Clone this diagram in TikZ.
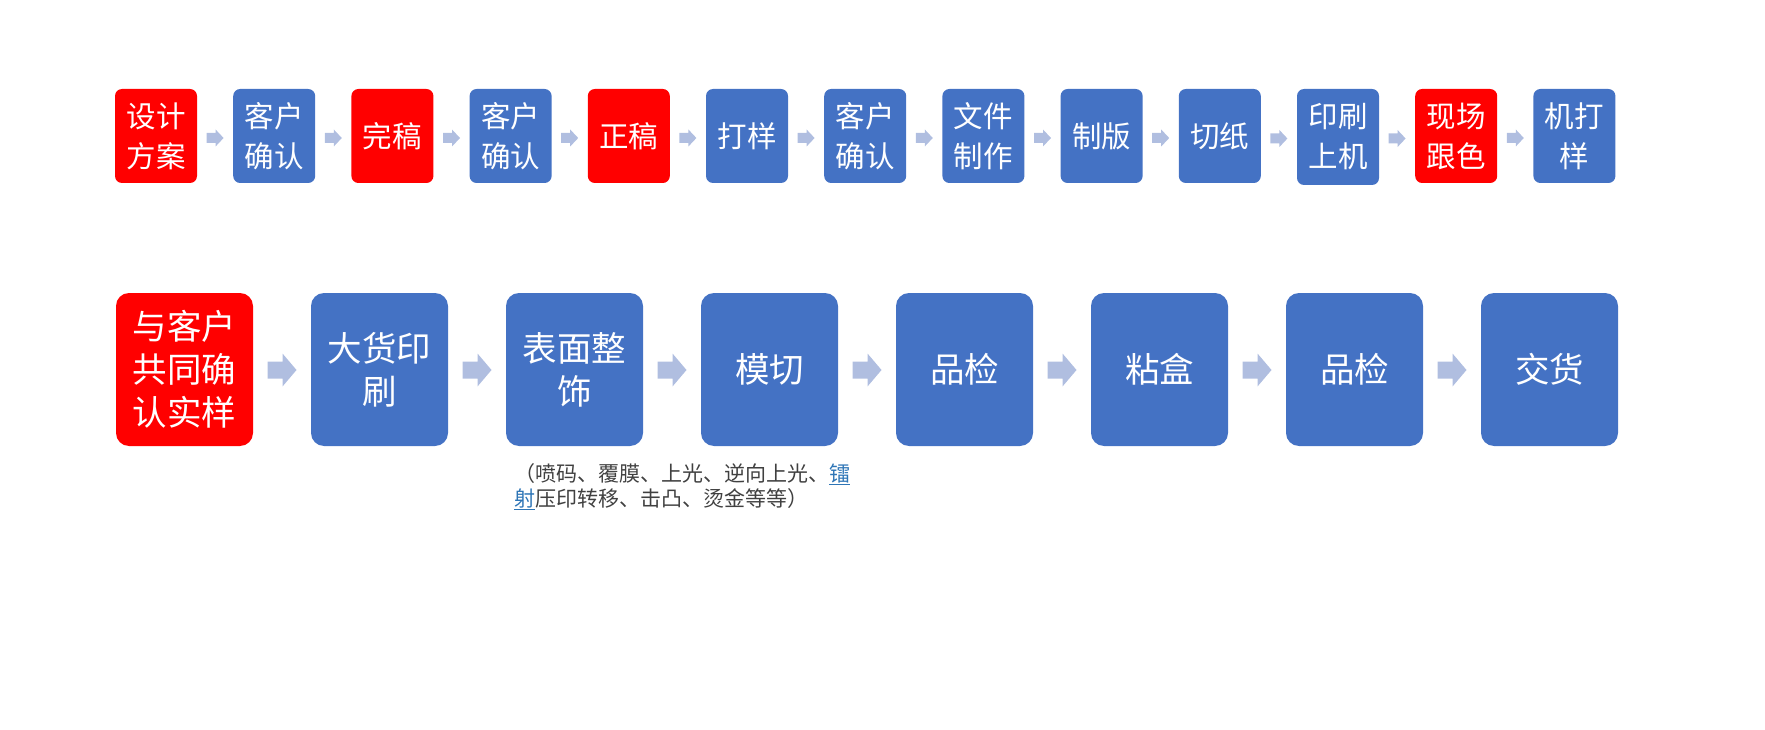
\documentclass[tikz,border=0pt]{standalone}
\usepackage{fontspec}
\setmainfont{Noto Sans CJK SC}
\usetikzlibrary{calc}
\definecolor{boxblue}{HTML}{4472C4}
\definecolor{boxred}{HTML}{FF0000}
\definecolor{arrowcol}{HTML}{B0BEE0}
\definecolor{captext}{HTML}{404040}
\definecolor{linkcol}{HTML}{2E75B6}
\tikzset{
  boxbase/.style={rectangle, text=white, align=center, inner sep=0pt, draw=none},
  smallbox/.style={boxbase, rounded corners=7pt, minimum width=82pt, minimum height=94pt,
     font=\fontsize{29.5}{40}\selectfont},
  bigbox/.style={boxbase, rounded corners=13pt, minimum width=137pt, minimum height=153pt,
     font=\fontsize{34.5}{43}\selectfont},
  bluebox/.style={fill=boxblue},
  redbox/.style={fill=boxred},
  pics/barrow/.style n args={4}{code={
    \fill[arrowcol] ({-#1/2},{-#2}) -- ({#1/2-#4},{-#2}) -- ({#1/2-#4},{-#3}) -- ({#1/2},0)
      -- ({#1/2-#4},{#3}) -- ({#1/2-#4},{#2}) -- ({-#1/2},{#2}) -- cycle;
  }},
}
\begin{document}
\begin{tikzpicture}[x=1pt,y=-1pt]
\useasboundingbox (0,0) rectangle (1765,730);
% top row
\node[smallbox,redbox]  (t1)  at (156.0,136) {设计\\方案};
\node[smallbox,bluebox] (t2)  at (274.2,136) {客户\\确认};
\node[smallbox,redbox]  (t3)  at (392.4,136) {完稿};
\node[smallbox,bluebox] (t4)  at (510.6,136) {客户\\确认};
\node[smallbox,redbox]  (t5)  at (628.8,136) {正稿};
\node[smallbox,bluebox] (t6)  at (747.0,136) {打样};
\node[smallbox,bluebox] (t7)  at (865.2,136) {客户\\确认};
\node[smallbox,bluebox] (t8)  at (983.4,136) {文件\\制作};
\node[smallbox,bluebox] (t9)  at (1101.6,136) {制版};
\node[smallbox,bluebox] (t10) at (1219.8,136) {切纸};
\node[smallbox,bluebox] (t11) at (1338.0,137) [minimum height=96pt] {印刷\\上机};
\node[smallbox,redbox]  (t12) at (1456.2,136) {现场\\跟色};
\node[smallbox,bluebox] (t13) at (1574.4,136) {机打\\样};
\foreach \a/\b in {t1/t2,t2/t3,t3/t4,t4/t5,t5/t6,t6/t7,t7/t8,t8/t9,t9/t10,t10/t11,t11/t12,t12/t13}{
  \pic at ($(\a.east)!0.5!(\b.west)+(0,2)$) {barrow={17}{5}{8.5}{8}};
}
% second row
\node[bigbox,redbox]  (b1) at (184.5,369.5) {与客户\\共同确\\认实样};
\node[bigbox,bluebox] (b2) at (379.5,369.5) {大货印\\刷};
\node[bigbox,bluebox] (b3) at (574.5,369.5) {表面整\\饰};
\node[bigbox,bluebox] (b4) at (769.5,369.5) {模切};
\node[bigbox,bluebox] (b5) at (964.5,369.5) {品检};
\node[bigbox,bluebox] (b6) at (1159.5,369.5) {粘盒};
\node[bigbox,bluebox] (b7) at (1354.5,369.5) {品检};
\node[bigbox,bluebox] (b8) at (1549.5,369.5) {交货};
\foreach \a/\b in {b1/b2,b2/b3,b3/b4,b4/b5,b5/b6,b6/b7,b7/b8}{
  \pic at ($(\a.east)!0.5!(\b.west)+(0,0.5)$) {barrow={29}{8.5}{16.5}{14}};
}
% caption
\node[anchor=north west, align=left, inner sep=0pt, text=captext,
      font=\fontsize{21}{25}\selectfont] (cap) at (514,463)
  {（喷码、覆膜、上光、逆向上光、\textcolor{linkcol}{\underline{镭}}\\
   \textcolor{linkcol}{\underline{射}}压印转移、击凸、烫金等等）};
\end{tikzpicture}
\end{document}
